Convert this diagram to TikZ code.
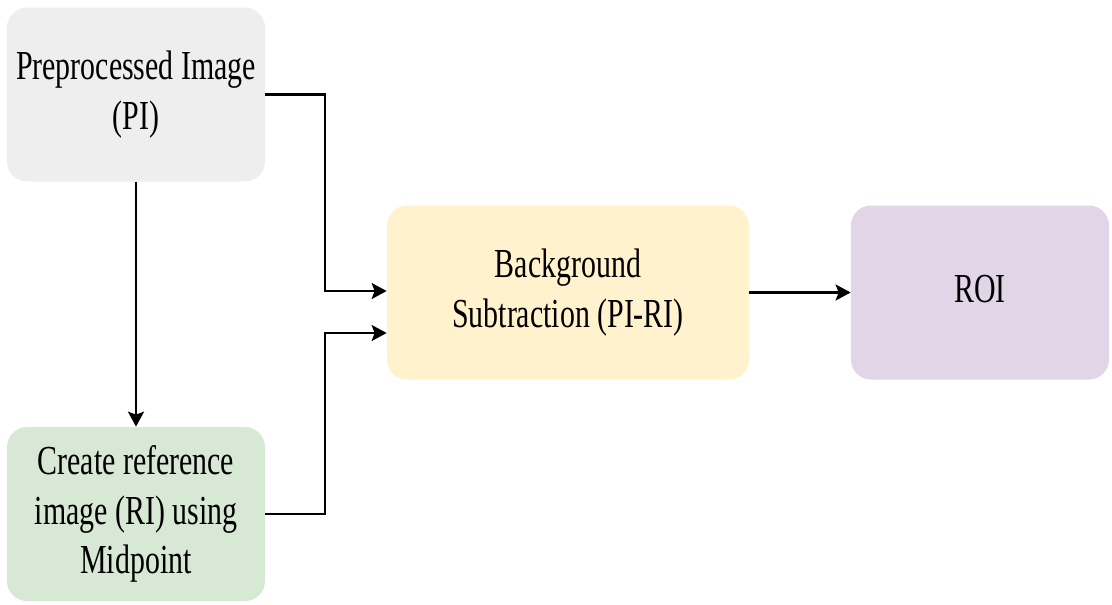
\documentclass[tikz,border=0pt]{standalone}
\usepackage{graphicx}
\usepackage{fontspec}
\setmainfont{Liberation Serif}
\usetikzlibrary{arrows.meta, positioning}
\definecolor{piGray}{HTML}{EEEEEE}
\definecolor{riGreen}{HTML}{D7E8D4}
\definecolor{bsYellow}{HTML}{FFF2CC}
\definecolor{roiPurple}{HTML}{E1D5E7}
% text in the boxes is set a bit taller than wide
\newcommand{\tallText}[1]{\scalebox{1}[1.38]{\begin{tabular}{@{}c@{}}#1\end{tabular}}}

\begin{document}
\begin{tikzpicture}[
    blk/.style={rounded corners=0.4cm, minimum width=5.16cm, minimum height=3.48cm,
                align=center, font=\fontsize{17}{20.6}\selectfont, inner sep=2pt},
    arr/.style={-{Stealth[length=3mm, width=3.2mm, inset=0.6mm]}, line width=1.3pt},
  ]
    \useasboundingbox (0,0) rectangle (22.24,-12.08);

    % Nodes
    \node[blk, fill=piGray]    (pi)  at (2.72,-1.89)
      {\tallText{Preprocessed Image\\(PI)}};
    \node[blk, fill=riGreen]   (ri)  at (2.72,-10.28)
      {\tallText{Create reference\\image (RI) using\\Midpoint}};
    \node[blk, fill=bsYellow, minimum width=7.24cm] (bs) at (11.36,-5.85)
      {\tallText{Background\\Subtraction (PI-RI)}};
    \node[blk, fill=roiPurple] (roi) at (19.6,-5.85) {\tallText{ROI}};

    % Connections
    \draw[arr] (pi.south) -- (ri.north);
    \draw[arr] (pi.east) -- ++(1.2,0) |- ([yshift=0.03cm]bs.west);
    \draw[arr] (ri.east) -- ++(1.2,0) |- ([yshift=-0.81cm]bs.west);
    \draw[arr] (bs.east) -- (roi.west);
  \end{tikzpicture}
\end{document}
